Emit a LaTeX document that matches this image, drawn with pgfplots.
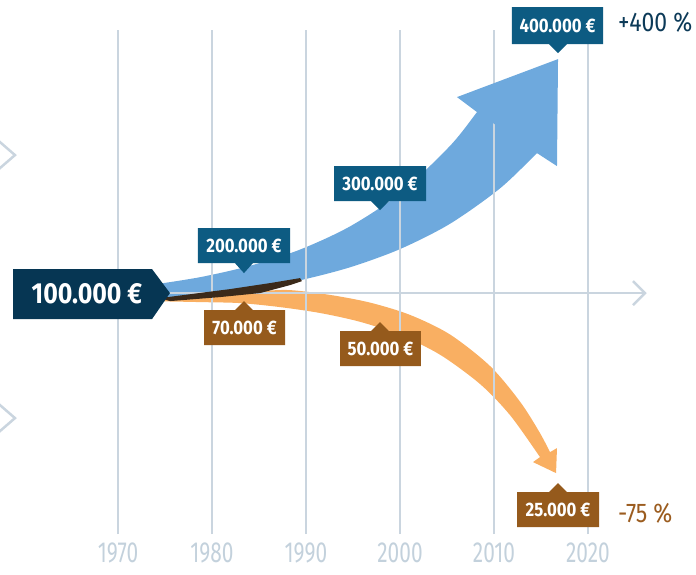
\documentclass[border=0pt]{standalone}
\usepackage{fontspec}
\usepackage{pgfplots}
\pgfplotsset{compat=1.18}
\usepgfplotslibrary{fillbetween}
\newfontfamily\boxfont{Fira Sans}[FakeStretch=0.86]
\newfontfamily\tickfont{Fira Sans}[FakeStretch=0.72]
\newfontfamily\pctfont{Fira Sans}[FakeStretch=0.85]
\definecolor{gridcol}{HTML}{CAD5DF}
\definecolor{tickcol}{HTML}{C3D1DC}
\definecolor{bluearrow}{HTML}{6EA9DD}
\definecolor{orangearrow}{HTML}{F9AF62}
\definecolor{shadowcol}{HTML}{3B2A1A}
\definecolor{navy}{HTML}{063653}
\definecolor{midblue}{HTML}{0D5B82}
\definecolor{brownbox}{HTML}{955A1C}
\definecolor{pluscol}{HTML}{0C3A58}
\definecolor{minuscol}{HTML}{9B5C1F}
\begin{document}
\begin{tikzpicture}
\begin{axis}[
  width=696pt, height=574pt, scale only axis,
  xmin=1957.447, xmax=2031.489, ymin=0, ymax=574,
  axis line style={draw=none},
  major tick length=0pt,
  ytick=\empty,
  xtick={1970,1980,1990,2000,2010,2020},
  xticklabels={1970,1980,1990,2000,2010,2020},
  xticklabel style={anchor=center, yshift=21pt, text=tickcol,
    font=\tickfont\fontsize{29}{29}\selectfont},
  clip=true,
]
% grid lines
\addplot[gridcol, line width=2pt] coordinates {(1970,40) (1970,544)};
\addplot[gridcol, line width=2pt] coordinates {(1980,40) (1980,544)};
\addplot[gridcol, line width=2pt] coordinates {(1990,40) (1990,544)};
\addplot[gridcol, line width=2pt] coordinates {(2000,40) (2000,544)};
\addplot[gridcol, line width=2pt] coordinates {(2010,40) (2010,544)};
\addplot[gridcol, line width=2pt] coordinates {(2020,40) (2020,544)};
% horizontal axis with chevron
\addplot[gridcol, line width=2.5pt] coordinates {(1970,281) (2025.9,281)};
\addplot[gridcol, line width=2.5pt] coordinates {(2024.79,293) (2026.06,281) (2024.79,269)};
% left chevrons
\addplot[gridcol, line width=2.5pt] coordinates {(1957.2,434) (1959.04,419) (1957.2,404)};
\addplot[gridcol, line width=2.5pt] coordinates {(1957.2,171) (1959.04,156) (1957.2,141)};
% orange arrow shaft
\addplot[draw=none, smooth, name path=ou] coordinates {
 (1973.404,276) (1980.851,281) (1985.106,283) (1988.298,284) (1992.553,279.2)
 (1996.809,271.5) (2001.064,259.2) (2005.319,239.6) (2009.574,208.1)
 (2012.766,172.5) (2014.894,141) (2016.170,118)};
\addplot[draw=none, smooth, name path=ol] coordinates {
 (1973.404,273) (1978.723,272) (1982.979,271) (1987.234,267) (1991.489,261.1)
 (1995.745,252.3) (2000,239.1) (2004.255,219.4) (2008.511,190.1) (2011.702,159)
 (2014.894,117) (2015.319,110.4)};
\addplot[orangearrow] fill between[of=ou and ol];
\addplot[fill=orangearrow, draw=none] coordinates {
 (2015.96,122) (2016.70,126) (2016.60,101) (2014.15,112) (2014.89,117)} -- cycle;
% shadow
\addplot[fill=shadowcol, draw=none] coordinates {
 (1974.47,276) (1981.91,285) (1986.17,291) (1989.36,296) (1989.57,293)
 (1988.30,289) (1985.11,281) (1980.85,277) (1975.53,273)} -- cycle;
% blue arrow shaft
\addplot[draw=none, smooth, name path=bu] coordinates {
 (1973.404,289) (1978.723,296.9) (1984.043,308.3) (1989.362,324.5) (1994.681,347.7)
 (2000,380.8) (2005.319,428.2) (2008.191,462) (2008.936,471.6)};
\addplot[draw=none, smooth, name path=bl] coordinates {
 (1973.404,273) (1978.723,277.8) (1984.043,284.5) (1989.362,293.8) (1994.681,306.8)
 (2000,325.0) (2005.319,350.3) (2010.638,385.7) (2014.574,421) (2014.894,423.8)};
\addplot[bluearrow] fill between[of=bu and bl];
\addplot[fill=bluearrow, draw=none] coordinates {
 (2008.19,462) (2006.06,477) (2016.81,515) (2016.70,408) (2014.57,421)} -- cycle;
% start label
\addplot[fill=navy, draw=none] coordinates {
 (1958.83,305) (1973.62,305) (1975.53,281) (1973.62,255) (1958.83,255)} -- cycle;
% blue callouts
\addplot[fill=midblue, draw=none] coordinates {
 (1978.51,346) (1988.30,346) (1988.30,311) (1984.36,311) (1983.40,301) (1982.44,311) (1978.51,311)} -- cycle;
\addplot[fill=midblue, draw=none] coordinates {
 (1992.98,408) (2002.77,408) (2002.77,373) (1998.83,373) (1997.87,364) (1996.91,373) (1992.98,373)} -- cycle;
\addplot[fill=midblue, draw=none] coordinates {
 (2011.91,567) (2021.60,567) (2021.60,530) (2017.77,530) (2016.81,521) (2015.85,530) (2011.91,530)} -- cycle;
% brown callouts
\addplot[fill=brownbox, draw=none] coordinates {
 (1979.15,264) (1982.44,264) (1983.40,273) (1984.36,264) (1987.77,264) (1987.77,229) (1979.15,229)} -- cycle;
\addplot[fill=brownbox, draw=none] coordinates {
 (1993.62,243) (1996.91,243) (1997.87,252) (1998.83,243) (2002.23,243) (2002.23,208) (1993.62,208)} -- cycle;
\addplot[fill=brownbox, draw=none] coordinates {
 (2012.45,82) (2015.85,82) (2016.81,91) (2017.77,82) (2021.17,82) (2021.17,47) (2012.45,47)} -- cycle;
% texts
\node[text=white, font=\boxfont\bfseries\fontsize{29}{29}\selectfont] at (axis cs:1966.70,280) {100.000 €};
\node[text=white, font=\boxfont\bfseries\fontsize{19.5}{19.5}\selectfont] at (axis cs:1983.40,328.5) {200.000 €};
\node[text=white, font=\boxfont\bfseries\fontsize{19.5}{19.5}\selectfont] at (axis cs:1997.87,390.5) {300.000 €};
\node[text=white, font=\boxfont\bfseries\fontsize{19.5}{19.5}\selectfont] at (axis cs:2016.76,548.5) {400.000 €};
\node[text=white, font=\boxfont\bfseries\fontsize{19.5}{19.5}\selectfont] at (axis cs:1983.46,246.5) {70.000 €};
\node[text=white, font=\boxfont\bfseries\fontsize{19.5}{19.5}\selectfont] at (axis cs:1997.93,225.5) {50.000 €};
\node[text=white, font=\boxfont\bfseries\fontsize{19.5}{19.5}\selectfont] at (axis cs:2016.81,64.5) {25.000 €};
\node[anchor=west, inner sep=0pt, text=pluscol, font=\pctfont\fontsize{27}{27}\selectfont] at (axis cs:2023.19,552) {+400 \%};
\node[anchor=west, inner sep=0pt, text=minuscol, font=\pctfont\fontsize{27}{27}\selectfont] at (axis cs:2023.19,61) {-75 \%};
\end{axis}
\end{tikzpicture}
\end{document}
